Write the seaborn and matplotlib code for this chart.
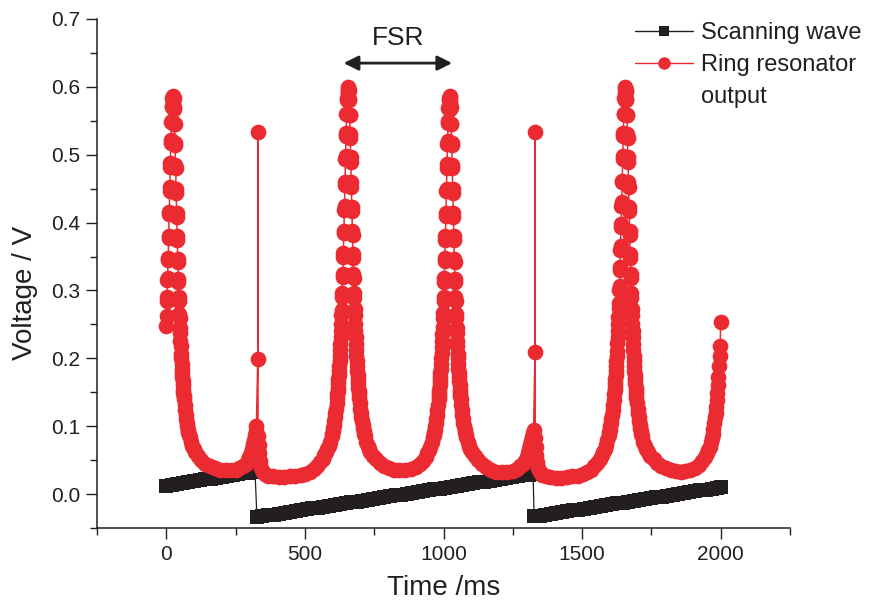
import matplotlib
matplotlib.use("Agg")
import matplotlib.pyplot as plt
from matplotlib.lines import Line2D
from matplotlib.ticker import MultipleLocator
import seaborn as sns

# ---------------- data ----------------
# scanning wave (sawtooth), three ramps
scan_time = [0, 20, 40, 60, 80, 100, 120, 140, 160, 180, 200, 220, 240, 260, 280, 300, 320,
             327, 347, 367, 387, 407, 427, 447, 467, 487, 507, 527, 547, 567, 587, 607, 627,
             647, 667, 687, 707, 727, 747, 767, 787, 807, 827, 847, 867, 887, 907, 927, 947,
             967, 987, 1007, 1027, 1047, 1067, 1087, 1107, 1127, 1147, 1167, 1187, 1207, 1227,
             1247, 1267, 1287, 1307, 1323,
             1327, 1347, 1367, 1387, 1407, 1427, 1447, 1467, 1487, 1507, 1527, 1547, 1567, 1587,
             1607, 1627, 1647, 1667, 1687, 1707, 1727, 1747, 1767, 1787, 1807, 1827, 1847, 1867,
             1887, 1907, 1927, 1947, 1967, 1987, 2001]
scan_volt = [0.0125, 0.0138, 0.0151, 0.0163, 0.0176, 0.0189, 0.0202, 0.0215, 0.0227, 0.0240,
             0.0253, 0.0266, 0.0279, 0.0291, 0.0304, 0.0317, 0.0330,
             -0.0340, -0.0327, -0.0314, -0.0302, -0.0289, -0.0276, -0.0263, -0.0250, -0.0238,
             -0.0225, -0.0212, -0.0199, -0.0186, -0.0174, -0.0161, -0.0148, -0.0135, -0.0122,
             -0.0110, -0.0097, -0.0084, -0.0071, -0.0058, -0.0046, -0.0033, -0.0020, -0.0007,
             0.0006, 0.0018, 0.0031, 0.0044, 0.0057, 0.0070, 0.0082, 0.0095, 0.0108, 0.0121,
             0.0134, 0.0146, 0.0159, 0.0172, 0.0185, 0.0198, 0.0210, 0.0223, 0.0236, 0.0249,
             0.0262, 0.0274, 0.0287, 0.0297,
             -0.0330, -0.0317, -0.0304, -0.0292, -0.0279, -0.0266, -0.0253, -0.0240, -0.0228,
             -0.0215, -0.0202, -0.0189, -0.0176, -0.0164, -0.0151, -0.0138, -0.0125, -0.0112,
             -0.0100, -0.0087, -0.0074, -0.0061, -0.0048, -0.0036, -0.0023, -0.0010, 0.0003,
             0.0016, 0.0028, 0.0041, 0.0054, 0.0067, 0.0080, 0.0092, 0.0101]

# ring resonator output, split by resonance
res1_t = [0, 1, 2, 3, 4, 5, 6, 7, 8, 9, 10, 11, 12, 13, 14, 15, 16, 17, 18, 19, 20, 21, 22,
          23, 24, 25, 26, 27, 28, 29, 30, 31, 32, 33, 34, 35, 36, 37, 38, 39, 40, 41, 42, 43,
          44, 45, 46, 47, 48, 49, 50, 51, 52, 53, 54,
          55, 56, 57, 58, 59, 60, 61, 62, 63, 64, 66, 68, 70, 72, 74, 76, 78, 80, 82, 84,
          89, 94, 99, 104, 114, 126, 140, 156, 174, 194, 214, 234,
          250, 264, 276, 286, 294, 300, 305, 309, 313, 316, 319, 322, 325,
          330, 330, 331, 333, 335, 338, 342, 348, 356, 368,
          385, 405, 425, 445, 465, 485, 502, 518, 532, 544, 554, 564, 570]
res1_v = [0.248, 0.262, 0.285, 0.290, 0.315, 0.318, 0.345, 0.348, 0.378, 0.380,
          0.412, 0.415, 0.447, 0.452, 0.482, 0.488, 0.518, 0.522, 0.548, 0.550,
          0.570, 0.572, 0.584, 0.580, 0.587, 0.578, 0.584, 0.568, 0.570, 0.546,
          0.546, 0.518, 0.514, 0.485, 0.480, 0.450, 0.444, 0.414, 0.408, 0.380,
          0.374, 0.347, 0.342, 0.317, 0.312, 0.290, 0.284, 0.266, 0.259, 0.244,
          0.237, 0.225, 0.218, 0.207, 0.200,
          0.192, 0.185, 0.178, 0.172, 0.166, 0.160, 0.154, 0.149, 0.144, 0.140,
          0.131, 0.124, 0.117, 0.111, 0.105, 0.100, 0.095, 0.091, 0.087, 0.084,
          0.077, 0.071, 0.066, 0.062,
          0.056, 0.050, 0.045, 0.041, 0.038, 0.036, 0.035, 0.035,
          0.036, 0.038, 0.041, 0.045, 0.050, 0.055, 0.061, 0.067, 0.074, 0.080, 0.087, 0.093,
          0.101,
          0.199, 0.534, 0.086, 0.072, 0.060, 0.048, 0.039, 0.033, 0.029, 0.027,
          0.026, 0.025, 0.025, 0.026, 0.027, 0.028, 0.030, 0.033, 0.037, 0.042, 0.047, 0.052,
          0.057]

res2_t = [576, 581, 586, 591, 596, 598, 600, 602, 604, 606, 608, 610, 612, 614, 616, 617,
          618, 619, 620, 621, 622, 623, 624, 625, 626,
          627, 628, 629, 630, 631, 632, 633, 634, 635, 636, 637, 638, 639, 640, 641, 642,
          643, 644, 645, 646, 647, 648, 649, 650, 651, 652, 653, 654, 655, 656, 657, 658,
          659, 660, 661, 662, 663, 664, 665, 666, 667, 668, 669, 670, 671, 672, 673, 674,
          675, 676, 677, 678, 679, 680, 681, 682, 683, 684, 685,
          686, 687, 688, 689, 690, 691, 692, 693, 694, 695, 696,
          698, 700, 702, 704, 706, 708, 710, 712, 714, 716,
          721, 726, 731, 736, 746, 758, 772, 786, 802, 820,
          840, 862, 882, 900, 914, 926, 936]
res2_v = [0.062, 0.066, 0.071, 0.077, 0.085, 0.089, 0.093, 0.097, 0.102, 0.107,
          0.113, 0.119, 0.126, 0.134, 0.142, 0.147, 0.152, 0.157, 0.163, 0.169,
          0.175, 0.182, 0.189, 0.196, 0.204,
          0.212, 0.221, 0.231, 0.241, 0.251, 0.264, 0.271, 0.290, 0.296, 0.320,
          0.324, 0.350, 0.355, 0.384, 0.388, 0.419, 0.424, 0.456, 0.460, 0.493,
          0.498, 0.528, 0.532, 0.560, 0.560, 0.583, 0.580, 0.597, 0.591, 0.600,
          0.592, 0.596, 0.580, 0.582, 0.558, 0.558, 0.530, 0.525, 0.496, 0.490,
          0.460, 0.453, 0.423, 0.417, 0.388, 0.381, 0.354, 0.348, 0.324, 0.318,
          0.296, 0.289, 0.272, 0.264, 0.251, 0.241, 0.231, 0.221, 0.212,
          0.204, 0.196, 0.189, 0.182, 0.175, 0.169, 0.163, 0.157, 0.152, 0.147, 0.142,
          0.134, 0.126, 0.119, 0.113, 0.107, 0.102, 0.097, 0.093, 0.089, 0.085,
          0.077, 0.071, 0.066, 0.062, 0.056, 0.051, 0.046, 0.042, 0.039, 0.036,
          0.035, 0.035, 0.037, 0.040, 0.044, 0.049, 0.054]

res3_t = [942, 947, 952, 957, 962, 964, 966, 968, 970, 972, 974, 976, 978, 980, 982, 983,
          984, 985, 986, 987, 988, 989, 990, 991, 992,
          993, 994, 995, 996, 997, 998, 999, 1000, 1001, 1002, 1003, 1004, 1005, 1006,
          1007, 1008, 1009, 1010, 1011, 1012, 1013, 1014, 1015, 1016, 1017, 1018, 1019,
          1020, 1021, 1022, 1023, 1024, 1025, 1026, 1027, 1028, 1029, 1030, 1031, 1032,
          1033, 1034, 1035, 1036, 1037, 1038, 1039, 1040, 1041, 1042, 1043, 1044, 1045,
          1046, 1047, 1048, 1049, 1050, 1051,
          1052, 1053, 1054, 1055, 1056, 1057, 1058, 1059, 1060, 1061, 1062,
          1064, 1066, 1068, 1070, 1072, 1074, 1076, 1078, 1080, 1082,
          1087, 1092, 1097, 1102, 1112, 1124, 1138, 1152, 1170, 1190,
          1210, 1230, 1250, 1264, 1276, 1286, 1294, 1300, 1305, 1309,
          1313, 1316, 1319, 1322, 1325, 1330, 1330, 1331, 1333, 1335,
          1338, 1342, 1348, 1356, 1368, 1385, 1405, 1425, 1445, 1465,
          1485, 1502, 1518, 1532, 1544, 1554, 1564, 1570]
res3_v = [0.061, 0.065, 0.070, 0.076, 0.084, 0.087, 0.091, 0.095, 0.100, 0.105,
          0.111, 0.117, 0.124, 0.131, 0.140, 0.144, 0.149, 0.154, 0.160, 0.166,
          0.172, 0.178, 0.185, 0.192, 0.200,
          0.208, 0.217, 0.226, 0.236, 0.246, 0.259, 0.267, 0.284, 0.291, 0.313,
          0.318, 0.343, 0.348, 0.375, 0.380, 0.410, 0.414, 0.446, 0.450, 0.481,
          0.487, 0.516, 0.520, 0.547, 0.549, 0.569, 0.571, 0.583, 0.580, 0.587,
          0.578, 0.584, 0.568, 0.570, 0.546, 0.546, 0.518, 0.514, 0.485, 0.480,
          0.450, 0.444, 0.414, 0.408, 0.380, 0.374, 0.347, 0.342, 0.317, 0.312,
          0.290, 0.284, 0.266, 0.259, 0.244, 0.237, 0.225, 0.218, 0.207,
          0.200, 0.192, 0.185, 0.178, 0.172, 0.166, 0.160, 0.154, 0.149, 0.144, 0.140,
          0.131, 0.124, 0.117, 0.111, 0.105, 0.100, 0.095, 0.091, 0.087, 0.084,
          0.077, 0.071, 0.066, 0.062, 0.056, 0.050, 0.044, 0.040, 0.036, 0.033,
          0.032, 0.032, 0.034, 0.037, 0.041, 0.045, 0.049, 0.054, 0.060, 0.066,
          0.072, 0.078, 0.084, 0.090, 0.095, 0.209, 0.534, 0.082, 0.070, 0.058,
          0.047, 0.038, 0.032, 0.028, 0.026, 0.025, 0.024, 0.024, 0.025, 0.026,
          0.027, 0.029, 0.032, 0.036, 0.041, 0.046, 0.052, 0.057]

res4_t = [1576, 1581, 1586, 1591, 1596, 1598, 1600, 1602, 1604, 1606, 1608, 1610, 1612,
          1614, 1616, 1617, 1618, 1619, 1620, 1621, 1622, 1623, 1624, 1625, 1626,
          1627, 1628, 1629, 1630, 1631, 1632, 1633, 1634, 1635, 1636, 1637, 1638, 1639,
          1640, 1641, 1642, 1643, 1644, 1645, 1646, 1647, 1648, 1649, 1650, 1651, 1652,
          1653, 1654, 1655, 1656, 1657, 1658, 1659, 1660, 1661, 1662, 1663, 1664, 1665,
          1666, 1667, 1668, 1669, 1670, 1671, 1672, 1673, 1674, 1675, 1676, 1677, 1678,
          1679, 1680, 1681, 1682, 1683, 1684, 1685,
          1686, 1687, 1688, 1689, 1690, 1691, 1692, 1693, 1694, 1695, 1696,
          1698, 1700, 1702, 1704, 1706, 1708, 1710, 1712, 1714, 1716,
          1721, 1726, 1731, 1736, 1746, 1758, 1772, 1786, 1802, 1820,
          1838, 1856, 1872, 1890, 1906, 1920, 1932, 1942, 1950, 1955,
          1960, 1964, 1968, 1971, 1974, 1977, 1980, 1982, 1984, 1986,
          1988, 1990, 1992, 1994, 1996, 1998, 2000]
res4_v = [0.062, 0.067, 0.072, 0.079, 0.087, 0.091, 0.095, 0.100, 0.105, 0.111,
          0.117, 0.124, 0.131, 0.139, 0.148, 0.153, 0.158, 0.164, 0.170, 0.176,
          0.182, 0.189, 0.196, 0.203, 0.211,
          0.222, 0.231, 0.241, 0.251, 0.261, 0.274, 0.281, 0.300, 0.306, 0.330,
          0.334, 0.360, 0.365, 0.394, 0.398, 0.425, 0.430, 0.460, 0.462, 0.493,
          0.498, 0.528, 0.532, 0.560, 0.560, 0.583, 0.580, 0.597, 0.591, 0.600,
          0.592, 0.596, 0.580, 0.582, 0.558, 0.558, 0.530, 0.525, 0.496, 0.490,
          0.460, 0.453, 0.423, 0.417, 0.388, 0.381, 0.354, 0.348, 0.324, 0.318,
          0.296, 0.289, 0.272, 0.264, 0.251, 0.241, 0.231, 0.221, 0.212,
          0.204, 0.196, 0.189, 0.182, 0.175, 0.169, 0.163, 0.157, 0.152, 0.147, 0.142,
          0.134, 0.126, 0.119, 0.113, 0.107, 0.102, 0.097, 0.093, 0.089, 0.085,
          0.077, 0.071, 0.066, 0.062, 0.056, 0.051, 0.046, 0.042, 0.039, 0.036,
          0.034, 0.033, 0.034, 0.036, 0.039, 0.043, 0.048, 0.054, 0.060, 0.065,
          0.070, 0.076, 0.083, 0.089, 0.096, 0.104, 0.113, 0.120, 0.128, 0.138,
          0.149, 0.160, 0.173, 0.188, 0.203, 0.218, 0.253]

x_ticks = [0, 500, 1000, 1500, 2000]
y_ticks = [0.0, 0.1, 0.2, 0.3, 0.4, 0.5, 0.6, 0.7]
labels = ["Scanning wave", "Ring resonator", "output"]

for a, b in [(scan_time, scan_volt), (res1_t, res1_v), (res2_t, res2_v),
             (res3_t, res3_v), (res4_t, res4_v)]:
    assert len(a) == len(b), (len(a), len(b))

ring_time = res1_t + res2_t + res3_t + res4_t
ring_volt = res1_v + res2_v + res3_v + res4_v

# ---------------- style ----------------
sns.set_style("ticks")
plt.rcParams["font.family"] = ["Liberation Sans", "DejaVu Sans"]
INK = "#231f20"
RED = "#ec2a31"

fig = plt.figure(figsize=(8.76, 6.07), dpi=100)
ax = fig.add_axes([97 / 876, 79 / 607, 693 / 876, 509 / 607])

sns.lineplot(x=scan_time, y=scan_volt, ax=ax, estimator=None, sort=False,
             color=INK, linewidth=0.9, marker="s", markersize=9.5,
             markeredgewidth=0, markerfacecolor=INK, zorder=2)
sns.lineplot(x=ring_time, y=ring_volt, ax=ax, estimator=None, sort=False,
             color=RED, linewidth=1.1, marker="o", markersize=11.3,
             markeredgewidth=0, markerfacecolor=RED, zorder=3)

ax.set_xlim(-250, 2250)
ax.set_ylim(-0.05, 0.7)
ax.set_xticks(x_ticks)
ax.set_yticks(y_ticks)
ax.set_xticklabels([str(v) for v in x_ticks])
ax.set_yticklabels([f"{v:.1f}" for v in y_ticks])
ax.xaxis.set_minor_locator(MultipleLocator(250))
ax.yaxis.set_minor_locator(MultipleLocator(0.05))

for side in ["top", "right"]:
    ax.spines[side].set_visible(False)
for side in ["left", "bottom"]:
    ax.spines[side].set_color(INK)
    ax.spines[side].set_linewidth(1.1)

ax.tick_params(axis="both", which="both", direction="out", width=1.0,
               color=INK, labelcolor=INK, labelsize=15)
ax.tick_params(axis="both", which="major", length=8)
ax.tick_params(axis="both", which="minor", length=4.8)
ax.tick_params(axis="x", which="major", pad=4)
ax.tick_params(axis="y", which="major", pad=4)

ax.set_xlabel("Time /ms", fontsize=20, color=INK, labelpad=8)
ax.set_ylabel("Voltage / V", fontsize=20, color=INK)
ax.yaxis.set_label_coords(-0.085, 0.462)

# FSR arrow
ax.annotate("", xy=(640, 0.635), xytext=(1031, 0.635),
            arrowprops=dict(arrowstyle="<|-|>", color=INK, lw=2.0,
                            mutation_scale=22, shrinkA=0, shrinkB=0))
ax.text(838, 0.672, "FSR", ha="center", va="center", fontsize=19, color=INK)

# legend
handles = [
    Line2D([], [], color=INK, lw=1.0, marker="s", markersize=7.5, markeredgewidth=0),
    Line2D([], [], color=RED, lw=1.0, marker="o", markersize=9, markeredgewidth=0),
    Line2D([], [], color="none", lw=0),
]
leg = ax.legend(handles, labels, loc="upper left",
                bbox_to_anchor=(635 / 876, 1 - 22 / 607), bbox_transform=fig.transFigure,
                frameon=False, fontsize=17, handlelength=2.45, handletextpad=0.35,
                labelspacing=0.42, borderpad=0, borderaxespad=0)
for t in leg.get_texts():
    t.set_color(INK)

fig.savefig("out.png", dpi=100)
